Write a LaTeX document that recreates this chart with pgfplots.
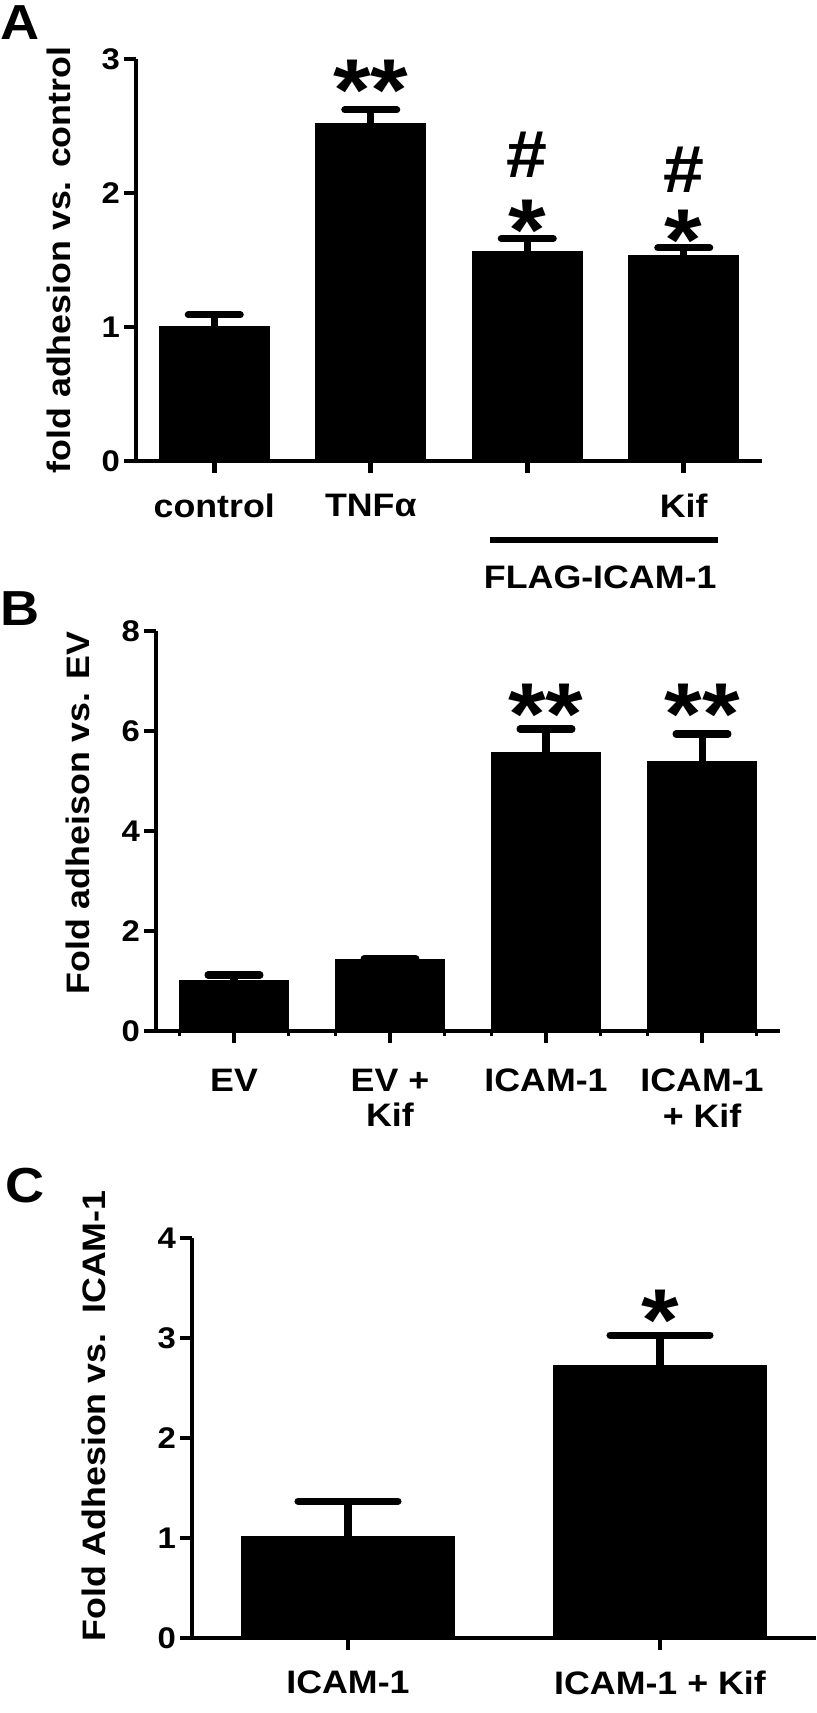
\documentclass[border=0pt]{standalone}
\usepackage{fontspec}
\setmainfont[FakeStretch=1.1]{Liberation Sans}
\usepackage{pgfplots}
\pgfplotsset{compat=1.18}

% 1 px of the reference = 0.01cm
\newcommand{\lab}{\bfseries\fontsize{9.25}{10.2}\selectfont}
\newcommand{\tck}{\bfseries\fontsize{8.5}{9}\selectfont}
\newcommand{\stars}{\bfseries\fontsize{25}{25}\selectfont}
\newcommand{\hash}{\bfseries\fontsize{19}{19}\selectfont}
\newcommand{\pan}{\bfseries\fontsize{14}{14}\selectfont}

\pgfplotsset{
  panel/.style={
    scale only axis, axis lines*=left, ybar, bar width=0.7,
    axis line style={line width=1.4pt},
    tick style={line width=1.4pt, black},
    tick align=outside, major tick length=0.12cm,
    ymin=0, clip=false,
    /pgf/number format/assume math mode=true,
    yticklabel style={font=\tck, inner sep=1pt},
    xticklabel style={font=\lab, inner sep=0pt, yshift=-0.25cm, align=center},
    ylabel style={font=\lab, anchor=center},
  },
  errs/.style={fill=black, draw=black,
    error bars/.cd, y dir=plus, y explicit,
    error bar style={draw=black, line width=2pt},
    error mark options={rotate=90, draw=black, line width=2pt, mark size=#1, line cap=round}},
}

\begin{document}
\begin{tikzpicture}
\useasboundingbox (0,0) rectangle (8.16,-17.13);

\node[anchor=north west, inner sep=0, font=\pan] at (0,-0.05) {A};
\node[anchor=north west, inner sep=0, font=\pan] at (0,-5.91) {B};
\node[anchor=north west, inner sep=0, font=\pan] at (0.05,-11.67) {C};

% panel A
\begin{axis}[panel, at={(1.36cm,-4.61cm)}, anchor=south west,
  width=6.26cm, height=4.02cm,
  xmin=-0.5, xmax=3.5, ymax=3, ytick={0,1,2,3},
  xtick={0,1,2,3}, xticklabels={control,TNFα,{},Kif},
  xticklabel style={yshift=0.05cm},
  ylabel={fold adhesion vs. control},
  ylabel style={at={(axis description cs:-0.124,0.5)}}]
\addplot[errs=0.26cm] coordinates {
  (0,1.00) +- (0,0.09)
  (1,2.52) +- (0,0.10)
  (2,1.56) +- (0,0.10)
  (3,1.53) +- (0,0.06)
};
\node[anchor=north, inner sep=0, font=\stars] at (axis cs:1,3.0) {**};
\node[anchor=north, inner sep=0, font=\hash] at (axis cs:2,2.46) {\#};
\node[anchor=north, inner sep=0, font=\stars] at (axis cs:2,1.955) {*};
\node[anchor=north, inner sep=0, font=\hash] at (axis cs:3,2.35) {\#};
\node[anchor=north, inner sep=0, font=\stars] at (axis cs:3,1.88) {*};
\draw[line width=1.5pt] (axis cs:1.764,-0.59) -- (axis cs:3.22,-0.59);
\node[font=\lab] at (axis cs:2.466,-0.866) {FLAG-ICAM-1};
\end{axis}

% panel B
\begin{axis}[panel, at={(1.56cm,-10.31cm)}, anchor=south west,
  width=6.24cm, height=4.00cm,
  xmin=-0.5, xmax=3.5, ymax=8, ytick={0,2,4,6,8},
  xtick={0,1,2,3}, xticklabels={EV,EV +\\Kif,ICAM-1,ICAM-1\\+ Kif},
  minor xtick={-0.35,0.35,0.65,1.35,1.65,2.35,2.65,3.35},
  minor tick length=0.05cm, minor tick style={line width=1pt},
  ylabel={Fold adheison vs. EV},
  ylabel style={at={(axis description cs:-0.125,0.545)}}]
\addplot[errs=0.26cm] coordinates {
  (0,1.00) +- (0,0.12)
  (1,1.43) +- (0,0.01)
  (2,5.57) +- (0,0.47)
  (3,5.38) +- (0,0.56)
};
\node[anchor=north, inner sep=0, font=\stars] at (axis cs:2,6.96) {**};
\node[anchor=north, inner sep=0, font=\stars] at (axis cs:3,6.96) {**};
\end{axis}

% panel C
\begin{axis}[panel, at={(1.92cm,-16.38cm)}, anchor=south west,
  width=6.24cm, height=4.00cm, bar width=0.68,
  xmin=-0.5, xmax=1.5, ymax=4, ytick={0,1,2,3,4},
  xtick={0,1}, xticklabels={ICAM-1,ICAM-1 + Kif},
  xticklabel style={yshift=0.05cm},
  ylabel={Fold Adhesion vs.\ \ ICAM-1},
  ylabel style={at={(axis description cs:-0.157,0.555)}}]
\addplot[errs=0.5cm] coordinates {
  (0,1.01) +- (0,0.36)
  (1,2.72) +- (0,0.31)
};
\node[anchor=north, inner sep=0, font=\stars] at (axis cs:1,3.49) {*};
\end{axis}
\end{tikzpicture}
\end{document}
